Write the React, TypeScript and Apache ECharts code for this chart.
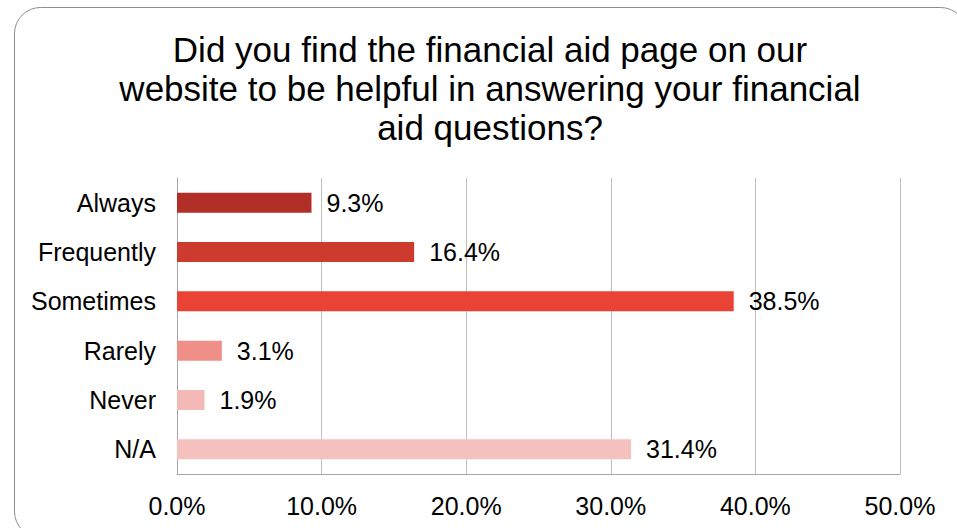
import React, { useEffect, useRef } from "react";
import * as echarts from "echarts";

const titleText =
  "Did you find the financial aid page on our\nwebsite to be helpful in answering your financial\naid questions?";
const categories = ["Always", "Frequently", "Sometimes", "Rarely", "Never", "N/A"];
const values = [9.3, 16.4, 38.5, 3.1, 1.9, 31.4];
const barColors = ["#B12F26", "#CD3B2F", "#EA4335", "#F08E88", "#F4B9B6", "#F5C1BF"];
const xTicks = { min: 0, max: 50, interval: 10 };

const FONT = "'Liberation Sans', Arial, sans-serif";

export default function App() {
  const ref = useRef<HTMLDivElement>(null);
  useEffect(() => {
    if (!ref.current) return;
    const chart = echarts.init(ref.current, undefined, { renderer: "svg" });
    chart.setOption({
      animation: false,
      backgroundColor: "#ffffff",
      textStyle: { fontFamily: FONT },
      title: {
        text: titleText,
        left: 485,
        top: 25,
        textAlign: "center",
        textStyle: {
          fontFamily: FONT,
          fontSize: 35,
          fontWeight: "normal",
          color: "#000000",
          lineHeight: 39,
        },
      },
      graphic: [
        {
          type: "rect",
          shape: { x: 14.5, y: 7.5, width: 952, height: 530, r: 26 },
          style: { fill: "none", stroke: "#8c8c8c", lineWidth: 1 },
          silent: true,
          z: -1,
        },
      ],
      grid: { left: 177, top: 178, width: 723, height: 296, containLabel: false },
      xAxis: {
        type: "value",
        min: xTicks.min,
        max: xTicks.max,
        interval: xTicks.interval,
        axisLine: { show: true, lineStyle: { color: "#a6a6a6", width: 1 } },
        axisTick: { show: false },
        splitLine: { show: true, lineStyle: { color: "#bfbfbf", width: 1 } },
        axisLabel: {
          fontFamily: FONT,
          fontSize: 25,
          color: "#000000",
          margin: 19,
          formatter: (v: number) => v.toFixed(1) + "%",
        },
      },
      yAxis: {
        type: "category",
        inverse: true,
        data: categories,
        axisLine: { show: true, lineStyle: { color: "#a6a6a6", width: 1 } },
        axisTick: { show: false },
        axisLabel: { fontFamily: FONT, fontSize: 25, color: "#000000", margin: 21 },
      },
      series: [
        {
          type: "bar",
          data: values.map((v, i) => ({ value: v, itemStyle: { color: barColors[i] } })),
          barWidth: 20,
          label: {
            show: true,
            position: "right",
            distance: 15,
            fontFamily: FONT,
            fontSize: 25,
            color: "#000000",
            formatter: (p: any) => Number(p.value).toFixed(1) + "%",
          },
        },
      ],
    });
    return () => chart.dispose();
  }, []);
  return (
    <div
      ref={ref}
      style={{ position: "fixed", left: 0, top: 0, width: 957, height: 528 }}
    />
  );
}
